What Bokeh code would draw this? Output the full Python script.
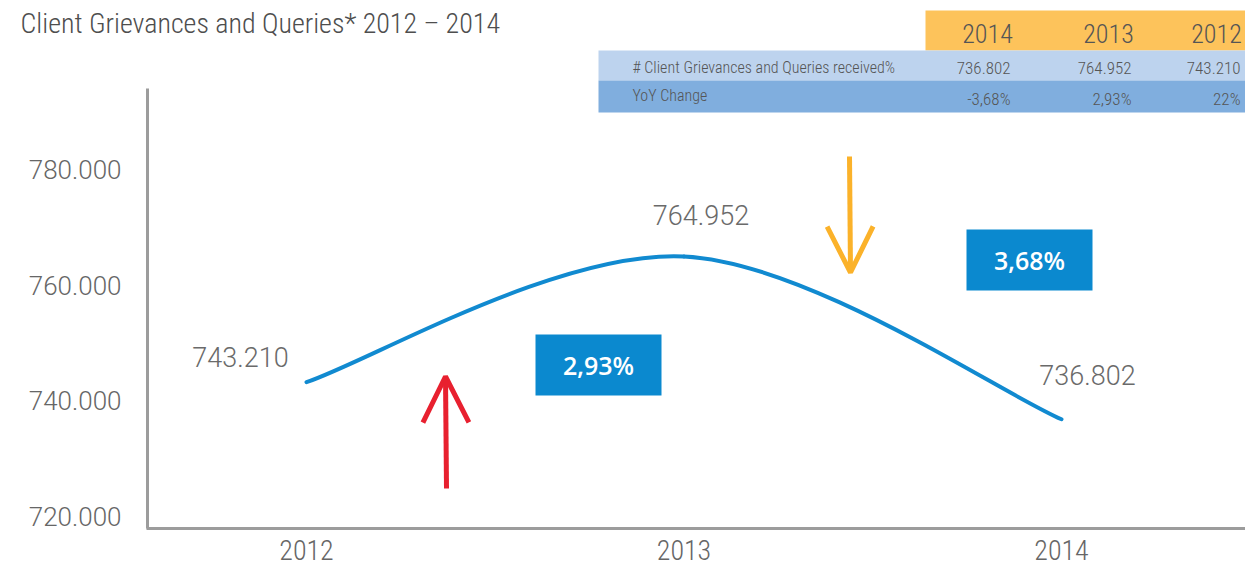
from bokeh.plotting import figure
from bokeh.models import Range1d, FixedTicker, Label, BoxAnnotation, Arrow, OpenHead
from bokeh.core.properties import value
from bokeh.embed import file_html
from bokeh.resources import INLINE

# ---------------- data ----------------
years = [2012, 2013, 2014]
grievances = [743210, 764952, 736802]
point_labels = ["743.210", "764.952", "736.802"]
y_ticks = [720000, 740000, 760000, 780000]
y_tick_labels = ["720.000", "740.000", "760.000", "780.000"]
table_years = ["2014", "2013", "2012"]
table_values = ["736.802", "764.952", "743.210"]
table_yoy = ["-3,68%", "2,93%", "22%"]
badge_texts = ["2,93%", "3,68%"]
title_text = "Client Grievances and Queries* 2012 \u2013 2014"
row1_label = "# Client Grievances and Queries received%"
row2_label = "YoY Change"

# ---------------- layout ----------------
W, H = 1245, 568
X_START, X_END = 2011.1894, 2014.4874
Y_START, Y_END = 711000, 809200

COND = "Roboto Condensed Light, Roboto Condensed, DejaVu Sans Condensed, Roboto Light, sans-serif"
COND_R = "Roboto Condensed, DejaVu Sans Condensed, Roboto, sans-serif"
LIGHT = "Roboto Light, Roboto, sans-serif"
BADGE_FONT = "Open Sans SemiBold, Open Sans Semibold, Open Sans, sans-serif"
GREY = "#555555"
BLUE = "#0b89cf"


def px(sx):
    return X_START + sx / W * (X_END - X_START)


def py(sy):
    return Y_END - sy / H * (Y_END - Y_START)


p = figure(width=W, height=H, output_backend="svg", toolbar_location=None,
           x_range=Range1d(X_START, X_END), y_range=Range1d(Y_START, Y_END),
           min_border=0)
p.outline_line_color = None
p.grid.visible = False
p.background_fill_color = "white"
p.border_fill_color = "white"

# axes (drawn at fixed locations inside the frame)
for ax in (p.xaxis[0], p.yaxis[0]):
    ax.axis_line_color = "#9c9c9c"
    ax.axis_line_width = 3
    ax.major_tick_line_color = None
    ax.minor_tick_line_color = None
    ax.major_tick_out = 0
    ax.major_tick_in = 0
    ax.major_label_text_color = "#666666"

p.yaxis.ticker = FixedTicker(ticks=y_ticks)
p.yaxis.major_label_overrides = dict(zip(y_ticks, y_tick_labels))
p.yaxis.major_label_text_font = LIGHT
p.yaxis.major_label_text_font_size = "26px"
p.yaxis.major_label_standoff = 26
p.yaxis.fixed_location = px(147)
p.yaxis.bounds = (py(528), py(88))

p.xaxis.ticker = FixedTicker(ticks=years)
p.xaxis.major_label_overrides = {y: str(y) for y in years}
p.xaxis.major_label_text_font = COND
p.xaxis.major_label_text_font_size = "28px"
p.xaxis.major_label_standoff = 11
p.xaxis.fixed_location = py(528)
p.xaxis.bounds = (px(146), X_END)

# table
p.add_layout(BoxAnnotation(left=px(925), right=X_END, top=py(10), bottom=py(50),
                           fill_color="#fdc35b", fill_alpha=1, line_color=None))
p.add_layout(BoxAnnotation(left=px(598), right=X_END, top=py(50), bottom=py(80),
                           fill_color="#bdd3ee", fill_alpha=1, line_color=None))
p.add_layout(BoxAnnotation(left=px(598), right=X_END, top=py(80), bottom=py(112),
                           fill_color="#80aede", fill_alpha=1, line_color=None))
col_right = [1010, 1131, 1240]
col_center = [987, 1108, 1216]
for i in range(3):
    p.add_layout(Label(x=px(col_center[i]), y=py(33), text=table_years[i], text_align="center",
                       text_baseline="middle", text_font=COND, text_font_size="26px", text_color=GREY))
    p.add_layout(Label(x=px(col_right[i]), y=py(67), text=table_values[i], text_align="right",
                       text_baseline="middle", text_font=COND, text_font_size="17px", text_color=GREY))
    p.add_layout(Label(x=px(col_right[i]), y=py(98), text=table_yoy[i], text_align="right",
                       text_baseline="middle", text_font=COND, text_font_size="17px", text_color=GREY))
p.add_layout(Label(x=px(632), y=py(67), text=row1_label, text_align="left", text_baseline="middle",
                   text_font=COND, text_font_size="16px", text_color=GREY))
p.add_layout(Label(x=px(632), y=py(95), text=row2_label, text_align="left", text_baseline="middle",
                   text_font=COND, text_font_size="16px", text_color=GREY))

# title
p.add_layout(Label(x=px(20), y=py(23), text=title_text, text_align="left", text_baseline="middle",
                   text_font=COND, text_font_size="28px", text_color="#4e4e4e"))

# smooth line (Catmull-Rom -> cubic bezier) from data
ext_x = [years[0]] + years + [years[-1]]
ext_y = [grievances[0]] + grievances + [grievances[-1]]
bx0, by0, bx1, by1, cx0, cy0, cx1, cy1 = [], [], [], [], [], [], [], []
for i in range(len(years) - 1):
    x0, x1, x2, x3 = ext_x[i:i + 4]
    y0, y1, y2, y3 = ext_y[i:i + 4]
    bx0.append(x1); by0.append(y1); bx1.append(x2); by1.append(y2)
    cx0.append(x1 + (x2 - x0) / 6); cy0.append(y1 + (y2 - y0) / 6)
    cx1.append(x2 - (x3 - x1) / 6); cy1.append(y2 - (y3 - y1) / 6)
p.bezier(x0=bx0, y0=by0, x1=bx1, y1=by1, cx0=cx0, cy0=cy0, cx1=cx1, cy1=cy1,
         line_color="#118ad0", line_width=4, line_cap="round")

# point labels
p.text(x=years, y=grievances, text=point_labels, x_offset=[-66, 17, 26], y_offset=[-25, -41, -44],
       text_align="center", text_baseline="middle", text_font=value(LIGHT),
       text_font_size="27px", text_color="#6a6a6a")

# badges
badge_boxes = [(535, 661, 334, 395), (966, 1092, 229, 290)]
for (l, r, t, b), txt in zip(badge_boxes, badge_texts):
    p.add_layout(BoxAnnotation(left=px(l), right=px(r), top=py(t), bottom=py(b),
                               fill_color=BLUE, fill_alpha=1, line_color=None))
    p.add_layout(Label(x=px((l + r) / 2), y=py((t + b) / 2), text=txt, text_align="center",
                       text_baseline="middle", text_font=BADGE_FONT,
                       text_font_size="25px", text_color="white"))

# arrows
p.add_layout(Arrow(end=OpenHead(size=46, line_color="#e8202f", line_width=5),
                   x_start=px(446), y_start=py(488), x_end=px(445), y_end=py(376),
                   line_color="#e8202f", line_width=5))
p.add_layout(Arrow(end=OpenHead(size=46, line_color="#fbb22a", line_width=5),
                   x_start=px(849), y_start=py(156), x_end=px(850), y_end=py(272),
                   line_color="#fbb22a", line_width=5))

open("out.html", "w").write(file_html(p, INLINE))
